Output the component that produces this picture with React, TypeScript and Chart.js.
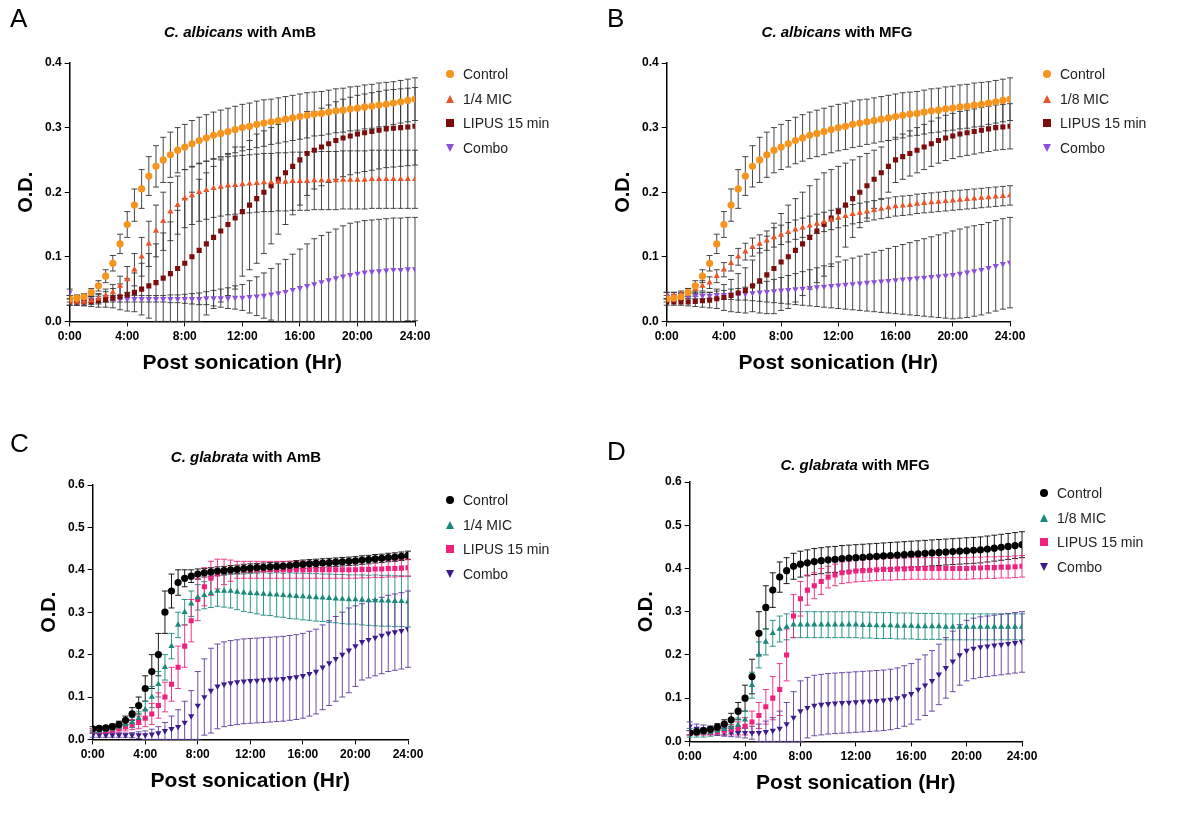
import React, { useEffect, useRef } from "react";
import { Chart, registerables } from "chart.js";
Chart.register(...registerables);

const hours = [0,0.5,1,1.5,2,2.5,3,3.5,4,4.5,5,5.5,6,6.5,7,7.5,8,8.5,9,9.5,10,10.5,11,11.5,12,12.5,13,13.5,14,14.5,15,15.5,16,16.5,17,17.5,18,18.5,19,19.5,20,20.5,21,21.5,22,22.5,23,23.5,24];

// Panel A
const ctrlA = [.035,.036,.038,.045,.055,.07,.09,.12,.15,.18,.205,.225,.24,.25,.258,.265,.27,.275,.28,.284,.288,.291,.294,.297,.30,.302,.305,.307,.309,.311,.313,.315,.317,.319,.321,.322,.324,.326,.327,.329,.33,.332,.333,.335,.336,.338,.34,.342,.344];
const errCtrlA = [.005,.005,.005,.006,.008,.01,.012,.015,.02,.025,.03,.03,.032,.035,.035,.035,.035,.036,.036,.036,.036,.036,.036,.036,.036,.036,.036,.036,.035,.035,.035,.035,.035,.035,.034,.034,.034,.034,.034,.034,.034,.034,.034,.034,.034,.033,.033,.033,.033];
const micA = [.03,.03,.03,.032,.035,.04,.045,.055,.065,.08,.10,.12,.14,.155,.17,.18,.19,.195,.20,.203,.206,.208,.21,.211,.212,.213,.214,.215,.215,.216,.216,.217,.217,.217,.218,.218,.218,.218,.219,.219,.219,.219,.22,.22,.22,.22,.22,.22,.22];
const errMicA = [.005,.005,.005,.006,.008,.01,.012,.015,.02,.025,.03,.035,.04,.045,.045,.045,.045,.045,.045,.045,.045,.045,.045,.045,.045,.045,.045,.045,.045,.045,.045,.045,.045,.045,.045,.045,.045,.045,.045,.045,.045,.045,.045,.045,.045,.045,.045,.045,.045];
const lipA = [.03,.03,.03,.031,.032,.034,.036,.038,.041,.045,.05,.055,.06,.067,.074,.082,.09,.10,.11,.12,.13,.14,.15,.16,.17,.18,.19,.20,.21,.22,.23,.24,.25,.26,.265,.27,.275,.28,.284,.287,.29,.292,.294,.296,.298,.299,.30,.301,.302];
const errLipA = [.005,.005,.006,.008,.01,.012,.015,.02,.025,.03,.04,.05,.06,.07,.08,.09,.1,.1,.11,.11,.11,.11,.11,.11,.1,.1,.1,.095,.09,.085,.08,.075,.07,.065,.06,.06,.06,.06,.06,.06,.06,.06,.06,.06,.06,.06,.06,.06,.06];
const comboA = [.045,.035,.034,.034,.034,.035,.035,.035,.035,.035,.035,.035,.035,.035,.035,.035,.035,.035,.035,.036,.036,.036,.036,.037,.037,.038,.039,.04,.042,.044,.046,.049,.052,.055,.058,.061,.064,.067,.07,.072,.074,.076,.077,.078,.079,.08,.08,.081,.081];
const errComboA = [.005,.005,.005,.005,.005,.005,.005,.005,.005,.005,.005,.005,.005,.005,.006,.006,.007,.008,.009,.01,.012,.014,.016,.018,.02,.025,.03,.035,.04,.045,.05,.055,.06,.065,.07,.072,.074,.076,.078,.08,.08,.08,.08,.08,.08,.08,.08,.08,.08];

// Panel B
const ctrlB = [.035,.036,.038,.045,.055,.07,.09,.12,.15,.18,.205,.225,.24,.25,.258,.265,.27,.275,.28,.284,.288,.291,.294,.297,.30,.302,.305,.307,.309,.311,.313,.315,.317,.319,.321,.322,.324,.326,.327,.329,.33,.332,.333,.335,.336,.338,.34,.342,.344];
const errCtrlB = errCtrlA;
const micB = [.04,.04,.042,.045,.05,.055,.06,.07,.08,.09,.10,.108,.115,.12,.125,.13,.134,.138,.142,.145,.148,.151,.154,.157,.16,.163,.166,.168,.17,.172,.174,.176,.178,.179,.18,.182,.183,.184,.185,.186,.187,.188,.189,.19,.191,.192,.193,.194,.195];
const errMicB = [.005,.005,.005,.006,.007,.008,.009,.01,.011,.012,.013,.013,.014,.014,.015,.015,.015,.015,.015,.015,.015,.015,.015,.015,.015,.015,.015,.015,.015,.015,.015,.015,.015,.015,.015,.015,.015,.015,.015,.015,.015,.015,.015,.015,.015,.015,.015,.015,.015];
const lipB = [.03,.03,.03,.03,.031,.032,.033,.035,.037,.04,.044,.048,.055,.063,.072,.082,.092,.10,.11,.12,.13,.14,.15,.16,.17,.18,.19,.20,.21,.22,.23,.24,.25,.255,.26,.265,.27,.275,.28,.284,.287,.29,.292,.294,.296,.298,.30,.301,.302];
const errLipB = [.005,.005,.005,.006,.008,.01,.012,.015,.02,.025,.03,.035,.04,.05,.06,.07,.075,.08,.08,.08,.08,.08,.08,.075,.07,.065,.06,.055,.05,.045,.04,.04,.035,.035,.035,.035,.035,.035,.035,.035,.035,.035,.035,.035,.035,.035,.035,.035,.035];
const comboB = [.04,.04,.04,.04,.04,.04,.04,.041,.041,.042,.042,.043,.044,.045,.046,.047,.048,.049,.05,.051,.052,.053,.054,.055,.056,.057,.058,.059,.06,.061,.062,.063,.064,.065,.066,.067,.068,.069,.07,.071,.072,.074,.076,.078,.08,.083,.086,.089,.091];
const errComboB = [.005,.005,.005,.005,.005,.005,.005,.006,.007,.008,.009,.01,.012,.014,.016,.018,.02,.022,.024,.026,.028,.03,.032,.034,.036,.038,.04,.042,.044,.046,.048,.05,.052,.054,.056,.058,.06,.062,.064,.066,.068,.069,.07,.07,.07,.07,.07,.07,.07];

// Panel C
const ctrlC = [.025,.026,.027,.03,.035,.045,.06,.08,.12,.16,.2,.3,.35,.37,.38,.385,.39,.393,.395,.397,.398,.4,.401,.403,.404,.405,.406,.407,.408,.409,.41,.412,.413,.414,.415,.416,.417,.418,.419,.42,.421,.423,.424,.426,.427,.429,.43,.432,.434];
const errCtrlC = [.005,.005,.005,.006,.008,.01,.015,.02,.03,.04,.05,.05,.04,.03,.02,.015,.012,.01,.01,.01,.01,.01,.01,.01,.01,.01,.01,.01,.01,.01,.01,.01,.01,.01,.01,.01,.01,.01,.01,.01,.01,.01,.01,.01,.01,.01,.01,.01,.01];
const micC = [.02,.02,.022,.025,.03,.035,.04,.05,.07,.1,.13,.17,.22,.27,.3,.32,.335,.34,.345,.35,.35,.35,.348,.346,.345,.344,.343,.342,.341,.34,.339,.338,.337,.336,.335,.334,.333,.332,.331,.33,.33,.329,.328,.328,.327,.327,.326,.326,.325];
const errMicC = [.005,.005,.005,.006,.008,.01,.012,.015,.02,.025,.03,.03,.03,.03,.03,.03,.03,.032,.034,.036,.038,.04,.042,.044,.046,.048,.05,.05,.052,.052,.054,.054,.055,.055,.056,.056,.057,.057,.058,.058,.058,.059,.059,.06,.06,.06,.06,.06,.06];
const lipC = [.02,.02,.02,.022,.025,.03,.035,.04,.05,.06,.08,.1,.13,.17,.22,.28,.33,.36,.38,.39,.395,.398,.40,.40,.40,.40,.40,.40,.40,.40,.40,.40,.40,.40,.40,.40,.40,.40,.40,.40,.40,.401,.401,.402,.402,.403,.403,.404,.405];
const errLipC = [.005,.005,.005,.006,.008,.01,.012,.015,.02,.025,.03,.035,.04,.05,.05,.05,.05,.045,.04,.035,.03,.025,.02,.02,.02,.02,.02,.02,.02,.02,.02,.02,.02,.02,.02,.02,.02,.02,.02,.02,.02,.02,.02,.02,.02,.02,.02,.02,.02];
const comboC = [.01,.01,.01,.01,.01,.01,.01,.01,.01,.012,.015,.02,.025,.03,.04,.055,.08,.1,.115,.125,.13,.133,.135,.137,.138,.139,.14,.141,.142,.143,.145,.147,.15,.155,.16,.17,.18,.19,.2,.21,.22,.23,.235,.24,.245,.25,.253,.256,.26];
const errComboC = [.005,.005,.005,.005,.005,.005,.006,.008,.01,.012,.015,.02,.03,.04,.05,.06,.08,.09,.1,.1,.1,.1,.1,.1,.1,.1,.1,.1,.1,.1,.1,.1,.1,.1,.1,.1,.1,.1,.1,.1,.095,.09,.09,.09,.09,.09,.09,.09,.09];

// Panel D
const ctrlD = [.02,.022,.025,.028,.033,.04,.05,.07,.1,.15,.25,.31,.35,.38,.395,.405,.41,.413,.416,.418,.42,.421,.423,.424,.425,.426,.427,.428,.429,.43,.431,.432,.433,.434,.435,.436,.437,.438,.439,.44,.441,.442,.443,.445,.447,.449,.451,.453,.455];
const errCtrlD = [.005,.005,.005,.006,.008,.01,.015,.02,.03,.04,.05,.05,.04,.035,.03,.03,.03,.03,.03,.03,.03,.03,.03,.03,.03,.03,.03,.03,.03,.03,.03,.03,.03,.03,.03,.03,.03,.03,.03,.03,.03,.03,.03,.03,.03,.03,.03,.03,.03];
const micD = [.02,.02,.02,.022,.025,.028,.032,.038,.05,.13,.2,.23,.25,.26,.265,.27,.27,.27,.27,.27,.27,.27,.27,.27,.27,.269,.269,.268,.268,.268,.267,.267,.267,.266,.266,.266,.266,.265,.265,.265,.265,.265,.265,.265,.265,.265,.265,.265,.265];
const errMicD = [.01,.01,.01,.01,.01,.012,.014,.016,.02,.03,.03,.03,.03,.03,.03,.03,.03,.03,.03,.03,.03,.03,.03,.03,.03,.03,.03,.03,.03,.03,.03,.03,.03,.03,.03,.03,.03,.03,.03,.03,.03,.03,.03,.03,.03,.03,.03,.03,.03];
const lipD = [.02,.02,.02,.021,.022,.024,.027,.03,.035,.045,.06,.08,.1,.12,.2,.29,.33,.35,.36,.37,.38,.385,.39,.392,.394,.395,.396,.397,.398,.398,.399,.399,.40,.40,.40,.40,.40,.40,.40,.40,.40,.401,.401,.402,.402,.403,.403,.404,.405];
const errLipD = [.005,.005,.005,.006,.008,.01,.012,.015,.02,.025,.03,.04,.05,.06,.06,.05,.04,.035,.03,.03,.025,.025,.025,.025,.025,.025,.025,.025,.025,.025,.025,.025,.025,.025,.025,.025,.025,.025,.025,.025,.025,.025,.025,.025,.025,.025,.025,.025,.025];
const comboD = [.035,.03,.028,.026,.024,.022,.021,.02,.02,.02,.02,.022,.025,.03,.04,.055,.07,.078,.083,.085,.087,.088,.089,.09,.091,.092,.093,.094,.095,.097,.1,.105,.11,.12,.13,.14,.155,.17,.185,.2,.21,.215,.218,.22,.222,.224,.226,.228,.23];
const errComboD = [.01,.01,.01,.01,.01,.01,.01,.01,.012,.015,.02,.025,.03,.04,.05,.06,.07,.07,.07,.07,.07,.07,.07,.07,.07,.07,.07,.07,.07,.07,.07,.07,.07,.07,.07,.07,.07,.07,.07,.07,.07,.07,.07,.07,.07,.07,.07,.07,.07];

const labelsA = ["Control", "1/4 MIC", "LIPUS 15 min", "Combo"];
const labelsB = ["Control", "1/8 MIC", "LIPUS 15 min", "Combo"];
const colorsAB = ["#f7941d", "#e8552a", "#7b0d0d", "#8d4fd8"];
const colorsCD = ["#000000", "#178a7c", "#f0217c", "#3d1b8c"];
const errAB = ["#333", "#333", "#333", "#333"];
const errCD = ["#000000", "#178a7c", "#f0217c", "#5b3a9c"];
const styles = ["circle", "triangle", "rect", "triangle"];
const rotations = [0, 0, 0, 180];
const FONT = "Arial, Liberation Sans";

const errorBarPlugin = {
  id: "errorBars",
  beforeDatasetsDraw(chart: any) {
    const ctx = chart.ctx;
    const y = chart.scales.y;
    chart.data.datasets.forEach((ds: any, i: number) => {
      const meta = chart.getDatasetMeta(i);
      ctx.save();
      ctx.strokeStyle = ds.errColor;
      ctx.lineWidth = 0.9;
      meta.data.forEach((pt: any, j: number) => {
        const v = ds.data[j].y, e = ds.err[j];
        const top = y.getPixelForValue(v + e);
        const bot = y.getPixelForValue(Math.max(0, v - e));
        ctx.beginPath();
        ctx.moveTo(pt.x, top); ctx.lineTo(pt.x, bot);
        ctx.moveTo(pt.x - 3, top); ctx.lineTo(pt.x + 3, top);
        ctx.moveTo(pt.x - 3, bot); ctx.lineTo(pt.x + 3, bot);
        ctx.stroke();
      });
      ctx.restore();
    });
  },
};

type PanelProps = {
  series: number[][]; errs: number[][]; labels: string[]; colors: string[]; errColors: string[];
  ymax: number; padTop: number; padLeft: number; padRight: number; padBottom: number;
};

function Panel(p: PanelProps) {
  const ref = useRef<HTMLCanvasElement>(null);
  useEffect(() => {
    const axisCommon = {
      border: { color: "#000", width: 1.5 },
      grid: { display: true, drawOnChartArea: false, drawTicks: true, tickLength: 5, color: "#000" },
    };
    const chart = new Chart(ref.current!, {
      type: "line",
      data: {
        datasets: p.series.map((s, i) => ({
          label: p.labels[i],
          data: s.map((v, j) => ({ x: hours[j], y: v })),
          err: p.errs[i],
          errColor: p.errColors[i],
          showLine: false,
          pointStyle: styles[i],
          rotation: rotations[i],
          pointRadius: 3.6,
          backgroundColor: p.colors[i],
          borderColor: p.colors[i],
          borderWidth: 0,
        })) as any,
      },
      options: {
        animation: false,
        responsive: false,
        layout: { padding: { top: p.padTop, left: p.padLeft, right: p.padRight, bottom: p.padBottom } },
        plugins: { legend: { display: false }, tooltip: { enabled: false } },
        scales: {
          x: {
            type: "linear", min: 0, max: 24, ...axisCommon,
            ticks: { stepSize: 4, color: "#000", font: { family: FONT, size: 12, weight: "bold" }, callback: (v: any) => v + ":00" },
            title: { display: true, text: "Post sonication (Hr)", color: "#000", font: { family: FONT, size: 21, weight: "bold" } },
          },
          y: {
            min: 0, max: p.ymax, ...axisCommon,
            ticks: { stepSize: 0.1, color: "#000", font: { family: FONT, size: 12, weight: "bold" }, callback: (v: any) => Number(v).toFixed(1) },
            title: { display: true, text: "O.D.", color: "#000", font: { family: FONT, size: 20, weight: "bold" } },
          },
        },
      },
      plugins: [errorBarPlugin],
    } as any);
    return () => chart.destroy();
  }, []);
  return <canvas ref={ref} width={597} height={400} style={{ position: "absolute", left: 0, top: 0 }} />;
}

function Marker({ i, color }: { i: number; color: string }) {
  if (i === 0) return <span style={{ display: "inline-block", width: 8, height: 8, borderRadius: 4, background: color }} />;
  if (i === 2) return <span style={{ display: "inline-block", width: 8, height: 8, background: color }} />;
  if (i === 1) return <span style={{ display: "inline-block", width: 0, height: 0, borderLeft: "4.5px solid transparent", borderRight: "4.5px solid transparent", borderBottom: `8px solid ${color}` }} />;
  return <span style={{ display: "inline-block", width: 0, height: 0, borderLeft: "4.5px solid transparent", borderRight: "4.5px solid transparent", borderTop: `8px solid ${color}` }} />;
}

function Legend({ labels, colors, left, top }: { labels: string[]; colors: string[]; left: number; top: number }) {
  return (
    <div style={{ position: "absolute", left, top }}>
      {labels.map((l, i) => (
        <div key={l} style={{ display: "flex", alignItems: "center", height: 24.5, fontFamily: FONT, fontSize: 14, color: "#222" }}>
          <span style={{ width: 14, display: "inline-flex", justifyContent: "center" }}><Marker i={i} color={colors[i]} /></span>
          <span style={{ marginLeft: 6 }}>{l}</span>
        </div>
      ))}
    </div>
  );
}

function Box(props: { left: number; top: number; letter: string; species: string; drug: string; titleX: number; titleY: number; children: any }) {
  return (
    <div style={{ position: "absolute", left: props.left, top: props.top, width: 597, height: 400 }}>
      {props.children}
      <div style={{ position: "absolute", left: 10, top: props.titleY - 20, fontFamily: FONT, fontSize: 26, color: "#000" }}>{props.letter}</div>
      <div style={{ position: "absolute", left: props.titleX, top: props.titleY, transform: "translateX(-50%)", whiteSpace: "nowrap", fontFamily: FONT, fontSize: 15, fontWeight: "bold", color: "#000" }}>
        <i>{props.species}</i> with {props.drug}
      </div>
    </div>
  );
}

export default function App() {
  return (
    <div style={{ position: "absolute", left: 0, top: 0, width: 1194, height: 817, background: "#fff" }}>
      <Box left={0} top={0} letter="A" species="C. albicans" drug="AmB" titleX={240} titleY={23}>
        <Panel series={[ctrlA, micA, lipA, comboA]} errs={[errCtrlA, errMicA, errLipA, errComboA]} labels={labelsA} colors={colorsAB} errColors={errAB} ymax={0.4} padTop={63} padLeft={10} padRight={182} padBottom={20} />
        <Legend labels={labelsA} colors={colorsAB} left={443} top={62} />
      </Box>
      <Box left={597} top={0} letter="B" species="C. albicans" drug="MFG" titleX={240} titleY={23}>
        <Panel series={[ctrlB, micB, lipB, comboB]} errs={[errCtrlB, errMicB, errLipB, errComboB]} labels={labelsB} colors={colorsAB} errColors={errAB} ymax={0.4} padTop={63} padLeft={10} padRight={184} padBottom={20} />
        <Legend labels={labelsB} colors={colorsAB} left={443} top={62} />
      </Box>
      <Box left={0} top={408} letter="C" species="C. glabrata" drug="AmB" titleX={246} titleY={40}>
        <Panel series={[ctrlC, micC, lipC, comboC]} errs={[errCtrlC, errMicC, errLipC, errComboC]} labels={labelsA} colors={colorsCD} errColors={errCD} ymax={0.6} padTop={77} padLeft={33} padRight={189} padBottom={10} />
        <Legend labels={labelsA} colors={colorsCD} left={443} top={80} />
      </Box>
      <Box left={597} top={408} letter="D" species="C. glabrata" drug="MFG" titleX={258} titleY={48}>
        <Panel series={[ctrlD, micD, lipD, comboD]} errs={[errCtrlD, errMicD, errLipD, errComboD]} labels={labelsB} colors={colorsCD} errColors={errCD} ymax={0.6} padTop={74} padLeft={33} padRight={172} padBottom={8} />
        <Legend labels={labelsB} colors={colorsCD} left={440} top={73} />
      </Box>
    </div>
  );
}
